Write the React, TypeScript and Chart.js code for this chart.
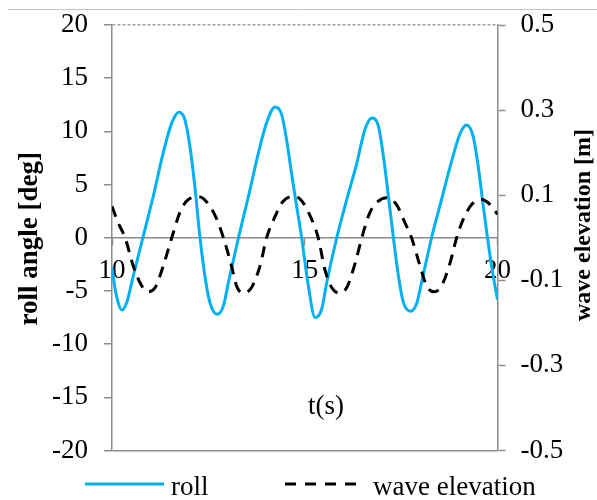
import React, { useEffect, useRef } from "react";
import { Chart, registerables } from "chart.js";

Chart.register(...registerables);

// Roll response: time [s] and roll angle [deg]
const rollTime = [
  10.0, 10.08, 10.16, 10.25, 10.38, 10.55, 10.8, 11.07, 11.33, 11.55, 11.74, 11.89, 12.02, 12.15, 12.28,
  12.41, 12.54, 12.73, 12.89, 13.02, 13.28, 13.54, 13.8, 14.01, 14.23, 14.4, 14.53, 14.66, 14.78, 14.92,
  15.08, 15.27, 15.44, 15.57, 15.83, 16.09, 16.35, 16.56, 16.74, 16.91, 17.04, 17.17, 17.3, 17.43, 17.56,
  17.75, 17.91, 18.03, 18.29, 18.55, 18.81, 19.03, 19.2, 19.37, 19.5, 19.63, 19.74, 19.87, 20.0,
];
const rollDeg = [
  -2.8, -4.8, -6.1, -6.8, -6.1, -3.6, 0.0, 3.9, 8.0, 10.8, 11.8, 11.1, 8.6, 4.8, 0.1,
  -3.6, -6.1, -7.2, -6.4, -4.2, 0.0, 3.9, 8.0, 10.8, 12.3, 11.6, 9.2, 6.0, 3.2, 0.0,
  -4.2, -7.5, -6.7, -4.2, 0.0, 3.6, 7.0, 10.15, 11.25, 10.5, 7.65, 3.9, 0.0, -3.6, -6.1,
  -6.9, -6.1, -4.2, 0.0, 3.6, 7.2, 9.8, 10.6, 9.5, 6.7, 3.0, 0.0, -3.2, -5.8,
];

// Incident wave: time [s] and elevation [m]
const waveTime = [
  10.0, 10.16, 10.34, 10.55, 10.77, 10.94, 11.12, 11.33, 11.55, 11.76, 11.98, 12.28, 12.54, 12.72, 12.89,
  13.1, 13.23, 13.4, 13.62, 13.84, 14.01, 14.23, 14.44, 14.76, 14.96, 15.18, 15.35, 15.52, 15.7, 15.9,
  16.09, 16.31, 16.48, 16.69, 16.91, 17.12, 17.38, 17.6, 17.77, 17.99, 18.16, 18.35, 18.55, 18.77, 18.94,
  19.11, 19.33, 19.59, 19.81, 20.0,
];
const waveM = [
  0.074, 0.035, 0.0, -0.066, -0.113, -0.127, -0.117, -0.066, 0.0, 0.059, 0.09, 0.096, 0.074, 0.043, 0.0,
  -0.066, -0.113, -0.13, -0.117, -0.066, 0.0, 0.05, 0.086, 0.097, 0.082, 0.043, 0.0, -0.074, -0.117, -0.13,
  -0.117, -0.059, 0.0, 0.059, 0.086, 0.094, 0.078, 0.035, 0.0, -0.066, -0.113, -0.127, -0.113, -0.059, 0.0,
  0.043, 0.078, 0.09, 0.078, 0.055,
];

// Axis tick values
const timeTicks = [10, 15, 20];
const rollTicks = [-20, -15, -10, -5, 0, 5, 10, 15, 20];
const waveTicks = [-0.5, -0.3, -0.1, 0.1, 0.3, 0.5];

const SERIF = "'Liberation Serif', 'Times New Roman', serif";
const AXIS_GRAY = "#8c8c8c";
const ROLL_BLUE = "#00b0f0";

// Thin rule across the top of the page
const topRule = {
  id: "topRule",
  beforeDraw(chart: any) {
    const { ctx } = chart;
    ctx.save();
    ctx.strokeStyle = "#c4c4c4";
    ctx.lineWidth = 1;
    ctx.beginPath();
    ctx.moveTo(8, 9.5);
    ctx.lineTo(chart.width, 9.5);
    ctx.stroke();
    ctx.restore();
  },
};

// Axis titles (both read bottom-to-top) and the time label inside the plot
const axisTitles = {
  id: "axisTitles",
  afterDraw(chart: any) {
    const { ctx, chartArea } = chart;
    ctx.save();
    ctx.fillStyle = "#000";
    ctx.textAlign = "center";
    ctx.textBaseline = "alphabetic";

    ctx.save();
    ctx.translate(36.5, (chartArea.top + chartArea.bottom) / 2 + 1);
    ctx.rotate(-Math.PI / 2);
    ctx.font = `bold 27px ${SERIF}`;
    ctx.fillText("roll angle [deg]", 0, 0);
    ctx.restore();

    ctx.save();
    ctx.translate(590, 225);
    ctx.rotate(-Math.PI / 2);
    ctx.font = `bold 24px ${SERIF}`;
    ctx.fillText("wave elevation [m]", 0, 0);
    ctx.restore();

    ctx.font = `27px ${SERIF}`;
    ctx.fillText("t(s)", 326, 414);
    ctx.restore();
  },
};

// Legend row under the plot, line samples taken from the datasets
const legendRow = {
  id: "legendRow",
  afterDraw(chart: any) {
    const { ctx } = chart;
    const slots = [
      { x0: 85, x1: 164, tx: 171 },
      { x0: 285, x1: 365, tx: 373 },
    ];
    const lineY = 484;
    ctx.save();
    chart.data.datasets.forEach((ds: any, i: number) => {
      const s = slots[i];
      if (!s) return;
      ctx.strokeStyle = ds.borderColor;
      ctx.lineWidth = ds.borderWidth;
      ctx.lineCap = "butt";
      ctx.setLineDash(ds.borderDash && ds.borderDash.length ? [11, 9] : []);
      ctx.beginPath();
      ctx.moveTo(s.x0, lineY);
      ctx.lineTo(s.x1, lineY);
      ctx.stroke();
      ctx.setLineDash([]);
      ctx.fillStyle = "#000";
      ctx.font = `27px ${SERIF}`;
      ctx.textAlign = "left";
      ctx.textBaseline = "alphabetic";
      ctx.fillText(ds.label, s.tx, 495);
    });
    ctx.restore();
  },
};

export default function App() {
  const canvasRef = useRef<HTMLCanvasElement | null>(null);

  useEffect(() => {
    const canvas = canvasRef.current;
    if (!canvas) return;

    Chart.defaults.font.family = SERIF;
    Chart.defaults.color = "#000";

    const chart = new Chart(canvas, {
      type: "line",
      data: {
        datasets: [
          {
            label: "roll",
            data: rollTime.map((t, i) => ({ x: t, y: rollDeg[i] })),
            borderColor: ROLL_BLUE,
            borderWidth: 3,
            pointRadius: 0,
            cubicInterpolationMode: "monotone",
            fill: false,
            yAxisID: "y",
            order: 1,
          },
          {
            label: "wave elevation",
            data: waveTime.map((t, i) => ({ x: t, y: waveM[i] })),
            borderColor: "#000000",
            borderWidth: 3,
            borderDash: [11, 8],
            pointRadius: 0,
            cubicInterpolationMode: "monotone",
            fill: false,
            yAxisID: "y1",
            order: 0,
          },
        ],
      },
      options: {
        responsive: false,
        animation: false,
        devicePixelRatio: 1,
        layout: { padding: { left: 0, right: 0, top: 25, bottom: 49.5 } },
        plugins: {
          legend: { display: false },
          tooltip: { enabled: false },
          title: { display: false },
        },
        scales: {
          x: {
            type: "linear",
            min: 10,
            max: 20,
            position: { y: 0 } as any,
            z: 1,
            afterBuildTicks: (scale: any) => {
              scale.ticks = timeTicks.map((v) => ({ value: v }));
            },
            grid: {
              display: true,
              drawOnChartArea: false,
              drawTicks: true,
              tickLength: 7,
              tickColor: AXIS_GRAY,
              tickWidth: 1.5,
            },
            border: { display: true, color: AXIS_GRAY, width: 1.5 },
            ticks: {
              padding: 10,
              color: "#000",
              font: { size: 27, family: SERIF },
              maxRotation: 0,
              autoSkip: false,
              callback: (v: any) => String(v),
            },
          },
          y: {
            type: "linear",
            position: "left",
            min: -20,
            max: 20,
            afterBuildTicks: (scale: any) => {
              scale.ticks = rollTicks.map((v) => ({ value: v }));
            },
            afterFit: (scale: any) => {
              scale.width = 112;
              scale.paddingTop = 0;
              scale.paddingBottom = 0;
            },
            grid: {
              color: (c: any) =>
                c.tick && c.tick.value === 20
                  ? "#a0a0a0"
                  : c.tick && c.tick.value === -20
                  ? AXIS_GRAY
                  : "rgba(0,0,0,0)",
              lineWidth: 1.5,
              drawTicks: true,
              tickLength: 8,
              tickColor: AXIS_GRAY,
              tickWidth: 1.5,
            },
            border: {
              display: true,
              color: AXIS_GRAY,
              width: 1.5,
              dash: (c: any) => (c.tick && c.tick.value === 20 ? [3, 2] : []),
            },
            ticks: {
              padding: 16,
              color: "#000",
              font: { size: 27, family: SERIF },
              autoSkip: false,
              callback: (v: any) => String(v),
            },
          },
          y1: {
            type: "linear",
            position: "right",
            min: -0.5,
            max: 0.5,
            afterBuildTicks: (scale: any) => {
              scale.ticks = waveTicks.map((v) => ({ value: v }));
            },
            afterFit: (scale: any) => {
              scale.width = 99.5;
              scale.paddingTop = 0;
              scale.paddingBottom = 0;
            },
            grid: {
              drawOnChartArea: false,
              drawTicks: true,
              tickLength: 8,
              tickColor: AXIS_GRAY,
              tickWidth: 1.5,
            },
            border: { display: true, color: AXIS_GRAY, width: 1.5 },
            ticks: {
              padding: 15,
              color: "#000",
              font: { size: 27, family: SERIF },
              autoSkip: false,
              callback: (v: any) => Number(v).toFixed(1),
            },
          },
        },
      },
      plugins: [topRule, axisTitles, legendRow],
    });

    return () => chart.destroy();
  }, []);

  return (
    <div style={{ position: "fixed", left: 0, top: 0, width: 597, height: 500, background: "#fff" }}>
      <canvas ref={canvasRef} width={597} height={500} style={{ width: 597, height: 500, display: "block" }} />
    </div>
  );
}
